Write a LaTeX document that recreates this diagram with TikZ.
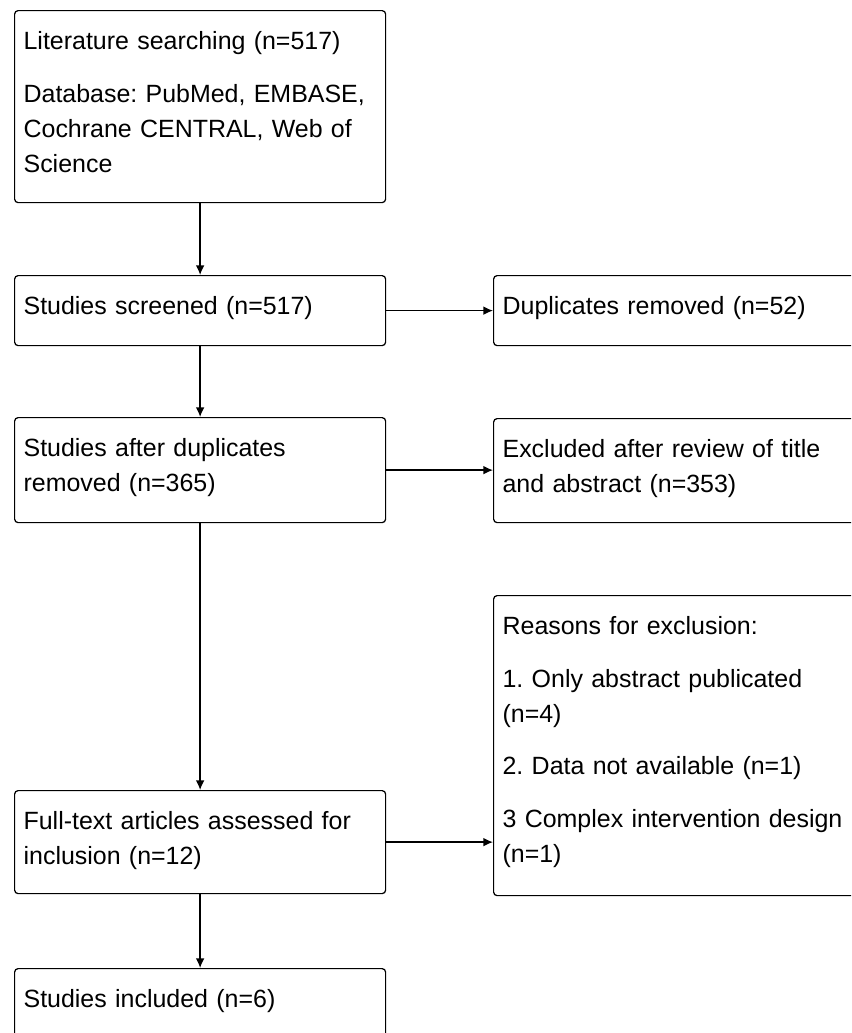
\documentclass[tikz,border=0pt]{standalone}
\usepackage{fontspec}
\setmainfont{Liberation Sans}
\usetikzlibrary{arrows.meta}
\frenchspacing

\begin{document}
\begin{tikzpicture}[
    box/.style={draw, line width=0.7pt, rounded corners=2pt, anchor=north west,
      align=left, text width=#1, inner xsep=0.18cm, inner ysep=0.28cm,
      text height=0.5cm, font=\fontsize{14.2pt}{19.9pt}\selectfont},
    box/.default=7.06cm,
    flow/.style={line width=0.8pt, -{Latex[length=5.5pt,width=5pt]}}
  ]
    % Fix the page size and cut the boxes at the border
    \useasboundingbox (0,0) rectangle (17.02,-20.66);
    \clip (0,0) rectangle (17.02,-20.66);

    % Draw the main boxes
    \node[box, text depth=2.78cm] (lit) at (0.28,-0.20)
      {Literature searching (n=517)\\[10pt]
       Database: PubMed, EMBASE,\\Cochrane CENTRAL, Web of\\Science};
    \node[box, text depth=0.34cm] (screen) at (0.28,-5.50)
      {Studies screened (n=517)};
    \node[box, text depth=1.04cm] (dedup) at (0.28,-8.34)
      {Studies after duplicates\\removed (n=365)};
    \node[box, text depth=1.00cm] (fulltext) at (0.28,-15.80)
      {Full-text articles assessed for\\inclusion (n=12)};
    \node[box, text depth=1.00cm] (incl) at (0.28,-19.36)
      {Studies included (n=6)};

    % Draw the side boxes
    \node[box=8.2cm, text depth=0.34cm] (dup) at (9.86,-5.50)
      {Duplicates removed (n=52)};
    \node[box=8.2cm, text depth=1.02cm] (excl) at (9.86,-8.36)
      {Excluded after review of title\\and abstract (n=353)};
    \node[box=8.2cm, text depth=4.94cm] (reasons) at (9.86,-11.90)
      {Reasons for exclusion:\\[10pt]
       1. Only abstract publicated\\(n=4)\\[10pt]
       2. Data not available (n=1)\\[10pt]
       3 Complex intervention design\\(n=1)};

    % Draw the arrows
    \draw[flow] (lit.south) -- (screen.north);
    \draw[flow] (screen.south) -- (dedup.north);
    \draw[flow] (dedup.south) -- (fulltext.north);
    \draw[flow] (fulltext.south) -- (incl.north);
    \draw[flow] (screen.east) -- (screen.east -| dup.west);
    \draw[flow] (dedup.east) -- (dedup.east -| excl.west);
    \draw[flow] (fulltext.east) -- (fulltext.east -| reasons.west);
\end{tikzpicture}
\end{document}
